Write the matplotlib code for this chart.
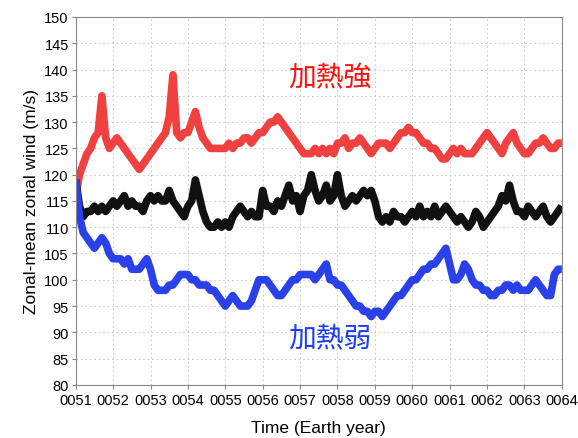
import numpy as np
import matplotlib
matplotlib.use("Agg")
import matplotlib.pyplot as plt

plt.rcParams['font.family'] = ['Liberation Sans', 'DejaVu Sans']

years = np.round(np.arange(51.0, 64.0001, 0.1), 2)
tick_years = list(range(51, 65))
tick_labels = ["%04d" % y for y in tick_years]

strong = [116, 120, 122, 124, 125, 127, 128, 135, 127, 125,
          126, 127, 126, 125, 124, 123, 122, 121, 122, 123,
          124, 125, 126, 127, 128, 131, 139, 128, 127, 128,
          128, 130, 132, 129, 127, 126, 125, 125, 125, 125,
          125, 126, 125, 126, 126, 127, 127, 126, 127, 128,
          128, 129, 130, 130, 131, 130, 129, 128, 127, 126,
          125, 124, 124, 124, 125, 124, 125, 124, 125, 124,
          126, 126, 127, 125, 126, 126, 127, 126, 125, 124,
          125, 126, 126, 126, 125, 126, 127, 128, 128, 129,
          128, 128, 127, 126, 126, 125, 125, 124, 123, 123,
          124, 125, 124, 125, 124, 124, 124, 125, 126, 127,
          128, 127, 126, 125, 124, 126, 127, 128, 126, 125,
          124, 124, 125, 126, 126, 127, 126, 125, 125, 126,
          126]

control = [119, 114, 112, 113, 113, 114, 113, 114, 113, 114,
           115, 114, 115, 116, 114, 115, 114, 114, 113, 115,
           116, 115, 116, 115, 115, 117, 115, 114, 113, 112,
           114, 115, 119, 116, 113, 111, 110, 110, 111, 110,
           111, 110, 112, 113, 114, 113, 112, 113, 112, 112,
           117, 114, 114, 113, 115, 114, 116, 118, 115, 116,
           113, 116, 117, 120, 117, 115, 116, 118, 115, 116,
           120, 116, 114, 115, 116, 115, 116, 117, 116, 117,
           115, 112, 111, 112, 111, 113, 112, 112, 111, 112,
           113, 112, 114, 112, 113, 112, 114, 112, 113, 114,
           113, 112, 111, 112, 111, 110, 111, 113, 112, 110,
           111, 112, 113, 114, 116, 115, 118, 115, 113, 113,
           112, 114, 113, 112, 113, 114, 112, 111, 112, 113,
           114]

weak = [119, 112, 109, 108, 107, 106, 107, 108, 107, 105,
        104, 104, 104, 103, 104, 102, 102, 102, 103, 104,
        102, 99, 98, 98, 98, 99, 99, 100, 101, 101,
        101, 100, 100, 99, 99, 99, 98, 98, 97, 96,
        95, 96, 97, 96, 95, 95, 95, 96, 98, 100,
        100, 100, 99, 98, 97, 97, 98, 99, 100, 100,
        101, 101, 101, 101, 100, 101, 102, 103, 100, 100,
        99, 99, 98, 97, 96, 95, 95, 94, 94, 93,
        94, 94, 93, 94, 95, 96, 97, 97, 98, 99,
        100, 100, 101, 102, 102, 103, 103, 104, 105, 106,
        103, 100, 100, 101, 103, 102, 100, 99, 99, 98,
        98, 97, 97, 98, 98, 99, 99, 98, 99, 98,
        98, 98, 99, 100, 99, 98, 97, 97, 101, 102,
        102]

fig = plt.figure(figsize=(5.78, 4.39), dpi=100)
ax = fig.add_axes([0.131, 0.121, 0.841, 0.838])

for vals, col in ((strong, '#f04040'), (control, '#111111'), (weak, '#2a40e8')):
    ax.plot(years, vals, color=col, lw=5.5, solid_joinstyle='round',
            solid_capstyle='butt')

ax.set_xlim(51, 64)
ax.set_ylim(80, 150)
ax.set_xticks(tick_years)
ax.set_xticklabels(tick_labels)
ax.set_yticks(np.arange(80, 151, 5))
ax.tick_params(axis='both', labelsize=10.5, length=3, color='#888888')
ax.tick_params(axis='x', pad=3)
ax.tick_params(axis='y', pad=2)
ax.grid(True, color='#cccccc', linestyle=(0, (1.5, 2.5)), linewidth=0.8)
for sp in ax.spines.values():
    sp.set_color('#888888')
ax.set_xlabel('Time (Earth year)', fontsize=12.5, labelpad=9)
ax.set_ylabel('Zonal-mean zonal wind (m/s)', fontsize=12.5, labelpad=4)

cjk = ['Noto Sans CJK JP', 'DejaVu Sans']
ax.text(57.8, 138.6, '加熱強', color='#ff1010', fontsize=20,
        family=cjk, ha='center', va='center')
ax.text(57.8, 88.9, '加熱弱', color='#1a3cff', fontsize=20,
        family=cjk, ha='center', va='center')

fig.savefig('out.png', dpi=100)
